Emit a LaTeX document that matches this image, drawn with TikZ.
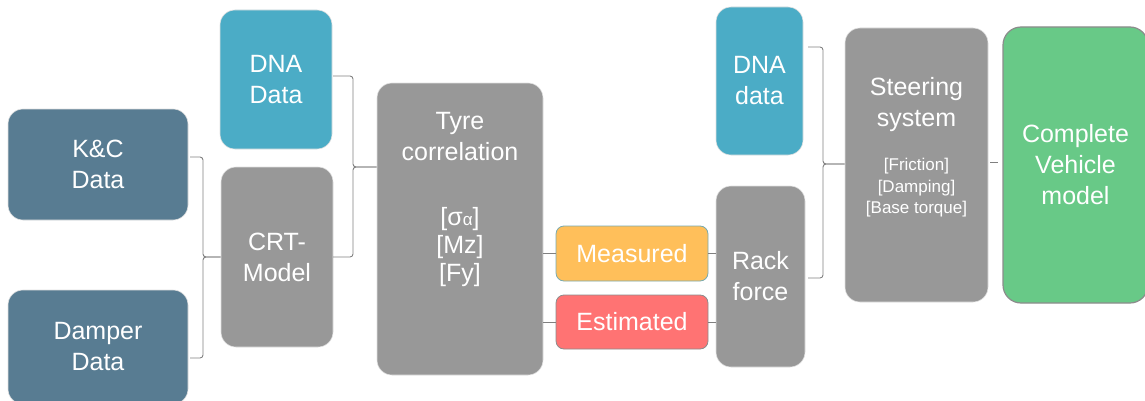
\documentclass[tikz,border=0pt]{standalone}
\usepackage{fontspec}
\setmainfont{Liberation Sans}
\usetikzlibrary{calc}
\definecolor{slate}{HTML}{587C92}
\definecolor{dnateal}{HTML}{4BACC6}
\definecolor{boxgray}{HTML}{989898}
\definecolor{measured}{HTML}{FFBF5A}
\definecolor{estimated}{HTML}{FF7373}
\definecolor{vehicle}{HTML}{68C987}
\begin{document}
\begin{tikzpicture}[x=1pt,y=1pt,
  box/.style={rectangle, rounded corners=15pt, draw=black!12, line width=0.6pt,
    text=white, font=\fontsize{25}{31}\selectfont, align=center, inner sep=0pt},
  txt/.style={text=white, align=center, inner sep=0pt},
  link/.style={draw=black!50, line width=0.9pt},
  brace/.style={draw=black!50, line width=0.9pt, rounded corners=3pt}]
\useasboundingbox (0,0) rectangle (1145,400);

% input data
\node[box, fill=slate, minimum width=180, minimum height=111] (kc) at (98,235.5) {K\&C\\Data};
\node[box, fill=slate, minimum width=180, minimum height=114] (damper) at (98,53) {Damper\\Data};
\node[box, fill=dnateal, minimum width=112, minimum height=139] (dnaL) at (276,320.5) {DNA\\Data};
\node[box, fill=boxgray, minimum width=112, minimum height=180] (crt) at (277,143) {CRT-\\Model};

% tyre correlation
\node[box, fill=boxgray, minimum width=166, minimum height=292] (tyre) at (460,171) {};
\node[txt, font=\fontsize{25}{31}\selectfont] (tyretitle) at (460,263) {Tyre\\correlation};
\node[txt, font=\fontsize{25}{28}\selectfont] (tyreparams) at (460,153)
  {{[σ{\fontsize{17}{17}\selectfont α}]}\\{[Mz]}\\{[Fy]}};

% rack force sources
\node[box, rounded corners=8pt, fill=measured, draw={rgb,255:red,120;green,170;blue,175}, line width=0.8pt,
  minimum width=152, minimum height=55] (measured) at (632,146.5) {Measured};
\node[box, rounded corners=8pt, fill=estimated, draw=black!45, line width=0.8pt,
  minimum width=152, minimum height=54] (estimated) at (632,78) {Estimated};
\node[box, fill=boxgray, minimum width=89, minimum height=181] (rack) at (760.5,123.5) {Rack\\force};
\node[box, fill=dnateal, minimum width=87, minimum height=148] (dnaR) at (759.5,319) {DNA\\data};

% steering and vehicle
\node[box, fill=boxgray, minimum width=143, minimum height=274] (steering) at (916.5,235) {};
\node[txt, font=\fontsize{25}{31}\selectfont] (steertitle) at (916.5,295) {Steering\\system};
\node[txt, font=\fontsize{17}{21.5}\selectfont] (steerparams) at (916.5,212)
  {{[Friction]}\\{[Damping]}\\{[Base torque]}};
\node[box, rounded corners=18pt, fill=vehicle, draw=black!45, line width=1.2pt,
  minimum width=145, minimum height=276] (complete) at (1075.5,235) {Complete\\Vehicle\\model};

% braces
\coordinate (b1t) at (190,243);
\coordinate (b1b) at (190,42);
\coordinate (b1v) at (203,143);
\draw[brace] (b1t) -| (b1v) -- (crt.west);
\draw[brace] (b1b) -| (b1v) -- (crt.west);

\coordinate (b2t) at (333,324);
\coordinate (b2b) at (333,143);
\coordinate (b2v) at (353,233);
\draw[brace] (b2t) -| (b2v) -- (b2v -| tyre.west);
\draw[brace] (b2b) -| (b2v) -- (b2v -| tyre.west);

\coordinate (b3t) at (808,353);
\coordinate (b3b) at (808,122);
\coordinate (b3v) at (823,236);
\draw[brace] (b3t) -| (b3v) -- (b3v -| steering.west);
\draw[brace] (b3b) -| (b3v) -- (b3v -| steering.west);

% links
\coordinate (svrow) at (0,238);
\draw[link] (measured.west -| tyre.east) -- (measured.west);
\draw[link] (estimated.west -| tyre.east) -- (estimated.west);
\draw[link] (measured.east) -- (measured.east -| rack.west);
\draw[link] (estimated.east) -- (estimated.east -| rack.west);
\draw[link, shorten <=2pt, shorten >=4pt] (steering.east |- svrow) -- (complete.west |- svrow);
\end{tikzpicture}
\end{document}
